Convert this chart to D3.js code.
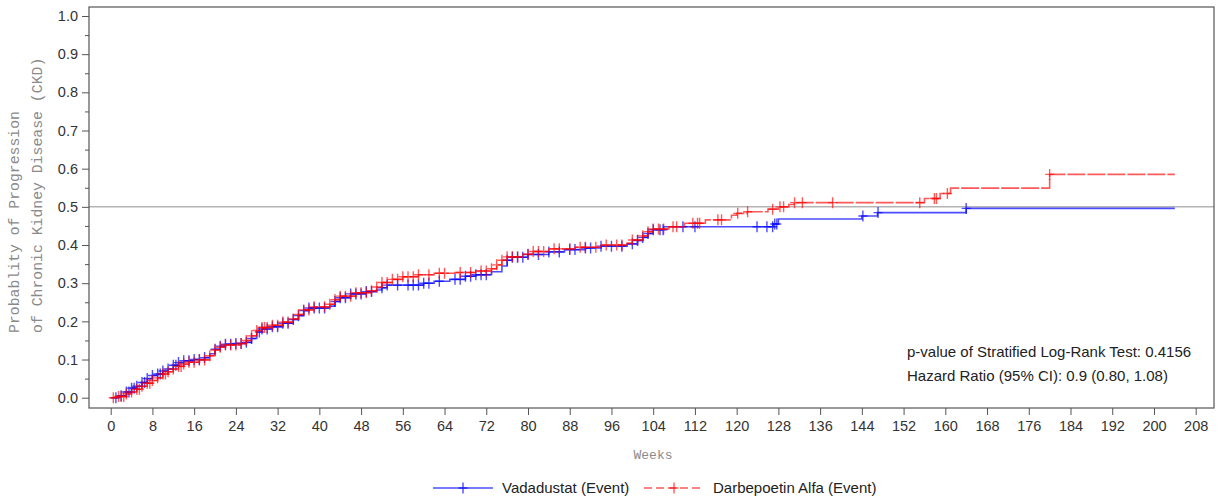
<!DOCTYPE html>
<html>
<head>
<meta charset="utf-8">
<script src="https://cdn.jsdelivr.net/npm/d3@7"></script>
<style>
  body { margin: 0; background: #fff; }
  svg { display: block; }
  .tick text { font-family: "Liberation Sans", Arial, sans-serif; font-size: 14.5px; fill: #333; }
  .mono { font-family: "Liberation Mono", "Courier New", monospace; fill: #8a8a8a; }
  .note { font-family: "Liberation Sans", Arial, sans-serif; font-size: 15px; fill: #222; }
</style>
</head>
<body>
<svg id="km" width="1224" height="499"></svg>
<script>
// step points: week where the curve jumps, and probability after the jump
const vadaWeeks = [0, 1.5, 3, 4, 5, 6, 7, 8, 9, 10, 11, 12, 13, 14, 16, 18, 19, 20, 21, 22, 24, 26, 27, 28, 29, 31, 33, 35, 36, 37, 38, 42, 43, 44, 46, 49, 51, 52, 53, 60, 62, 65, 68, 70, 73, 75, 76, 77, 80, 84, 87, 91, 94, 99, 101, 102, 103, 104, 106, 127, 128, 144, 147, 164];
const vadaProb  = [0, 0.005, 0.015, 0.025, 0.03, 0.04, 0.05, 0.058, 0.062, 0.07, 0.075, 0.085, 0.092, 0.097, 0.1, 0.105, 0.115, 0.127, 0.135, 0.14, 0.142, 0.145, 0.155, 0.172, 0.18, 0.186, 0.195, 0.205, 0.215, 0.228, 0.235, 0.24, 0.252, 0.262, 0.272, 0.278, 0.282, 0.288, 0.295, 0.3, 0.305, 0.31, 0.318, 0.322, 0.33, 0.345, 0.36, 0.368, 0.375, 0.382, 0.388, 0.392, 0.397, 0.403, 0.412, 0.42, 0.43, 0.44, 0.448, 0.455, 0.468, 0.476, 0.485, 0.496];
const vadaEnd = 204;
const vadaCensor = [1, 2, 3, 3.5, 4, 4.5, 5, 6, 6.5, 7, 8, 9, 9.5, 10, 11, 12, 12.5, 13, 14, 15, 16, 17, 18, 20, 21, 22, 23, 24, 25, 26, 27, 28.5, 29, 30, 31, 32, 33, 34, 35, 36, 37, 38, 39, 40, 41, 43, 44, 45, 46, 47, 48, 49, 50, 52, 53, 55, 57, 58, 59, 60, 61, 63, 66, 67, 68, 69, 70, 71, 72, 76, 77, 78, 79, 80, 82, 84, 86, 88, 89, 91, 92, 94, 96, 98, 100, 101, 102, 103, 104, 105.3, 105.9, 109.7, 112, 123.9, 125.8, 126.9, 127.3, 127.7, 144.2, 147.1, 164];

const darbWeeks = [0, 1, 3, 4, 5, 6, 7, 8, 9, 10, 11, 12, 13, 14, 15, 17, 19, 20, 21, 22, 25, 26, 27, 28, 29, 31, 33, 35, 36, 37, 39, 42, 43, 44, 47, 50, 51, 52, 54, 56, 59, 62, 66, 70, 73, 74, 75, 76, 79, 81, 84, 89, 94, 99, 100, 102, 103, 104, 107, 110, 114, 119, 120, 122, 126, 128, 130, 131, 156, 159, 161, 180];
const darbProb  = [0, 0.003, 0.01, 0.015, 0.022, 0.03, 0.038, 0.045, 0.052, 0.062, 0.068, 0.075, 0.082, 0.088, 0.093, 0.099, 0.11, 0.125, 0.132, 0.138, 0.142, 0.15, 0.162, 0.176, 0.184, 0.19, 0.198, 0.206, 0.218, 0.23, 0.238, 0.245, 0.257, 0.266, 0.275, 0.28, 0.29, 0.302, 0.31, 0.317, 0.322, 0.326, 0.328, 0.332, 0.338, 0.348, 0.36, 0.369, 0.376, 0.383, 0.39, 0.394, 0.4, 0.405, 0.413, 0.424, 0.435, 0.442, 0.448, 0.457, 0.466, 0.478, 0.483, 0.487, 0.494, 0.5, 0.506, 0.511, 0.522, 0.535, 0.549, 0.585];
const darbEnd = 204;
const darbCensor = [0.5, 1.5, 2, 2.5, 3, 4, 5, 5.5, 6, 7, 7.5, 8, 9, 10, 10.5, 11, 12, 13, 13.5, 14, 15, 16, 17, 18, 19, 20, 21, 22, 23, 24, 25, 26, 27, 28, 29, 29.5, 30, 31, 32, 33, 34, 35, 36, 37, 38, 39, 41, 42, 43, 44, 45, 46, 47, 48, 49, 50, 51, 52, 53, 54, 55, 56, 57, 58, 59, 61, 63, 64, 67, 69, 71, 72, 73, 74, 75, 76, 77, 78, 80, 81, 82, 83, 85, 86, 88, 90, 91, 93, 95, 97, 98, 100, 101, 102, 103, 104, 105, 106, 107.8, 108.5, 111.6, 112.5, 112.9, 116.4, 117.1, 120.2, 122.1, 126.9, 128.3, 129, 131.1, 132.6, 138.4, 155.1, 157.9, 158.3, 160.4, 180];

const xTicks = d3.range(0, 209, 8);
const yTicks = d3.range(0, 11).map(d => d / 10);
const seriesNames = ["Vadadustat (Event)", "Darbepoetin Alfa (Event)"];
const noteLines = ["p-value of Stratified Log-Rank Test: 0.4156", "Hazard Ratio (95% CI): 0.9 (0.80, 1.08)"];

const frame = {left: 89, right: 1214, top: 7, bottom: 408};
const svg = d3.select("#km");

const x = d3.scaleLinear().domain([0, 208]).range([110.7, 1195.7]);
const y = d3.scaleLinear().domain([0, 1]).range([397.7, 16]);

// reference line at 0.5
svg.append("line")
    .attr("x1", frame.left).attr("x2", frame.right)
    .attr("y1", y(0.5)).attr("y2", y(0.5))
    .attr("stroke", "#b4b4b4").attr("stroke-width", 1.5);

function buildSeries(weeks, prob, end) {
    const pts = weeks.map((w, i) => [w, prob[i]]);
    pts.push([end, prob[prob.length - 1]]);
    return pts;
}
function valueAt(weeks, prob, t) {
    const i = d3.bisectRight(weeks, t) - 1;
    return prob[Math.max(0, i)];
}

const line = d3.line().x(d => x(d[0])).y(d => y(d[1])).curve(d3.curveStepAfter);

const series = [
    {weeks: vadaWeeks, prob: vadaProb, end: vadaEnd, censor: vadaCensor, color: "#0000ff", op: 0.7, dash: null},
    {weeks: darbWeeks, prob: darbProb, end: darbEnd, censor: darbCensor, color: "#ff0000", op: 0.65, dash: "18,2"}
];

function plus(g, cx, cy, color, op) {
    g.append("path")
        .attr("d", `M${cx - 4.5},${cy}H${cx + 4.5}M${cx},${cy - 5.5}V${cy + 5.5}`)
        .attr("stroke", color).attr("stroke-opacity", op)
        .attr("stroke-width", 1.4).attr("fill", "none");
}

series.forEach(s => {
    const g = svg.append("g");
    g.append("path")
        .attr("d", line(buildSeries(s.weeks, s.prob, s.end)))
        .attr("fill", "none").attr("stroke", s.color)
        .attr("stroke-opacity", s.op).attr("stroke-width", 1.6)
        .attr("stroke-dasharray", s.dash);
    s.censor.forEach(t => plus(g, x(t), y(valueAt(s.weeks, s.prob, t)), s.color, s.op));
});

// frame
svg.append("rect")
    .attr("x", frame.left).attr("y", frame.top)
    .attr("width", frame.right - frame.left).attr("height", frame.bottom - frame.top)
    .attr("fill", "none").attr("stroke", "#555").attr("stroke-width", 1.2);

// x axis
const xAxis = svg.append("g")
    .attr("transform", `translate(0,${frame.bottom})`)
    .call(d3.axisBottom(x).tickValues(xTicks).tickSize(7).tickPadding(6));
xAxis.select(".domain").remove();
xAxis.selectAll(".tick line").attr("stroke", "#555");

// y axis with minor ticks
const yMinor = svg.append("g")
    .attr("transform", `translate(${frame.left},0)`)
    .call(d3.axisLeft(y).tickValues(d3.range(0, 10).map(d => d / 10 + 0.05)).tickSize(4).tickFormat(""));
yMinor.select(".domain").remove();
yMinor.selectAll(".tick line").attr("stroke", "#555");

const yAxis = svg.append("g")
    .attr("transform", `translate(${frame.left},0)`)
    .call(d3.axisLeft(y).tickValues(yTicks).tickSize(7).tickPadding(4).tickFormat(d3.format(".1f")));
yAxis.select(".domain").remove();
yAxis.selectAll(".tick line").attr("stroke", "#555");

// axis titles
const yTitle = svg.append("text")
    .attr("class", "mono")
    .attr("transform", "translate(0,333) rotate(-90)")
    .style("font-size", "14.8px");
yTitle.append("tspan").attr("x", 0).attr("y", 19).text("Probablity of Progression");
yTitle.append("tspan").attr("x", 0).attr("y", 42).text("of Chronic Kidney Disease (CKD)");

svg.append("text")
    .attr("class", "mono")
    .attr("x", 653).attr("y", 459)
    .attr("text-anchor", "middle")
    .style("font-size", "13px")
    .text("Weeks");

// annotation
svg.selectAll(".note").data(noteLines).join("text")
    .attr("class", "note")
    .attr("x", 907).attr("y", (d, i) => 357 + i * 24)
    .text(d => d);

// legend
const legX = [433, 644];
const legY = 488;
seriesNames.forEach((name, i) => {
    const s = series[i];
    const g = svg.append("g");
    g.append("line")
        .attr("x1", legX[i]).attr("x2", legX[i] + 60)
        .attr("y1", legY).attr("y2", legY)
        .attr("stroke", s.color).attr("stroke-opacity", s.op)
        .attr("stroke-width", 1.5).attr("stroke-dasharray", s.dash ? "8,4" : null);
    plus(g, legX[i] + 30, legY, s.color, s.op);
    g.append("text")
        .attr("class", "note")
        .attr("x", legX[i] + 69).attr("y", legY + 5)
        .text(name);
});
</script>
</body>
</html>
